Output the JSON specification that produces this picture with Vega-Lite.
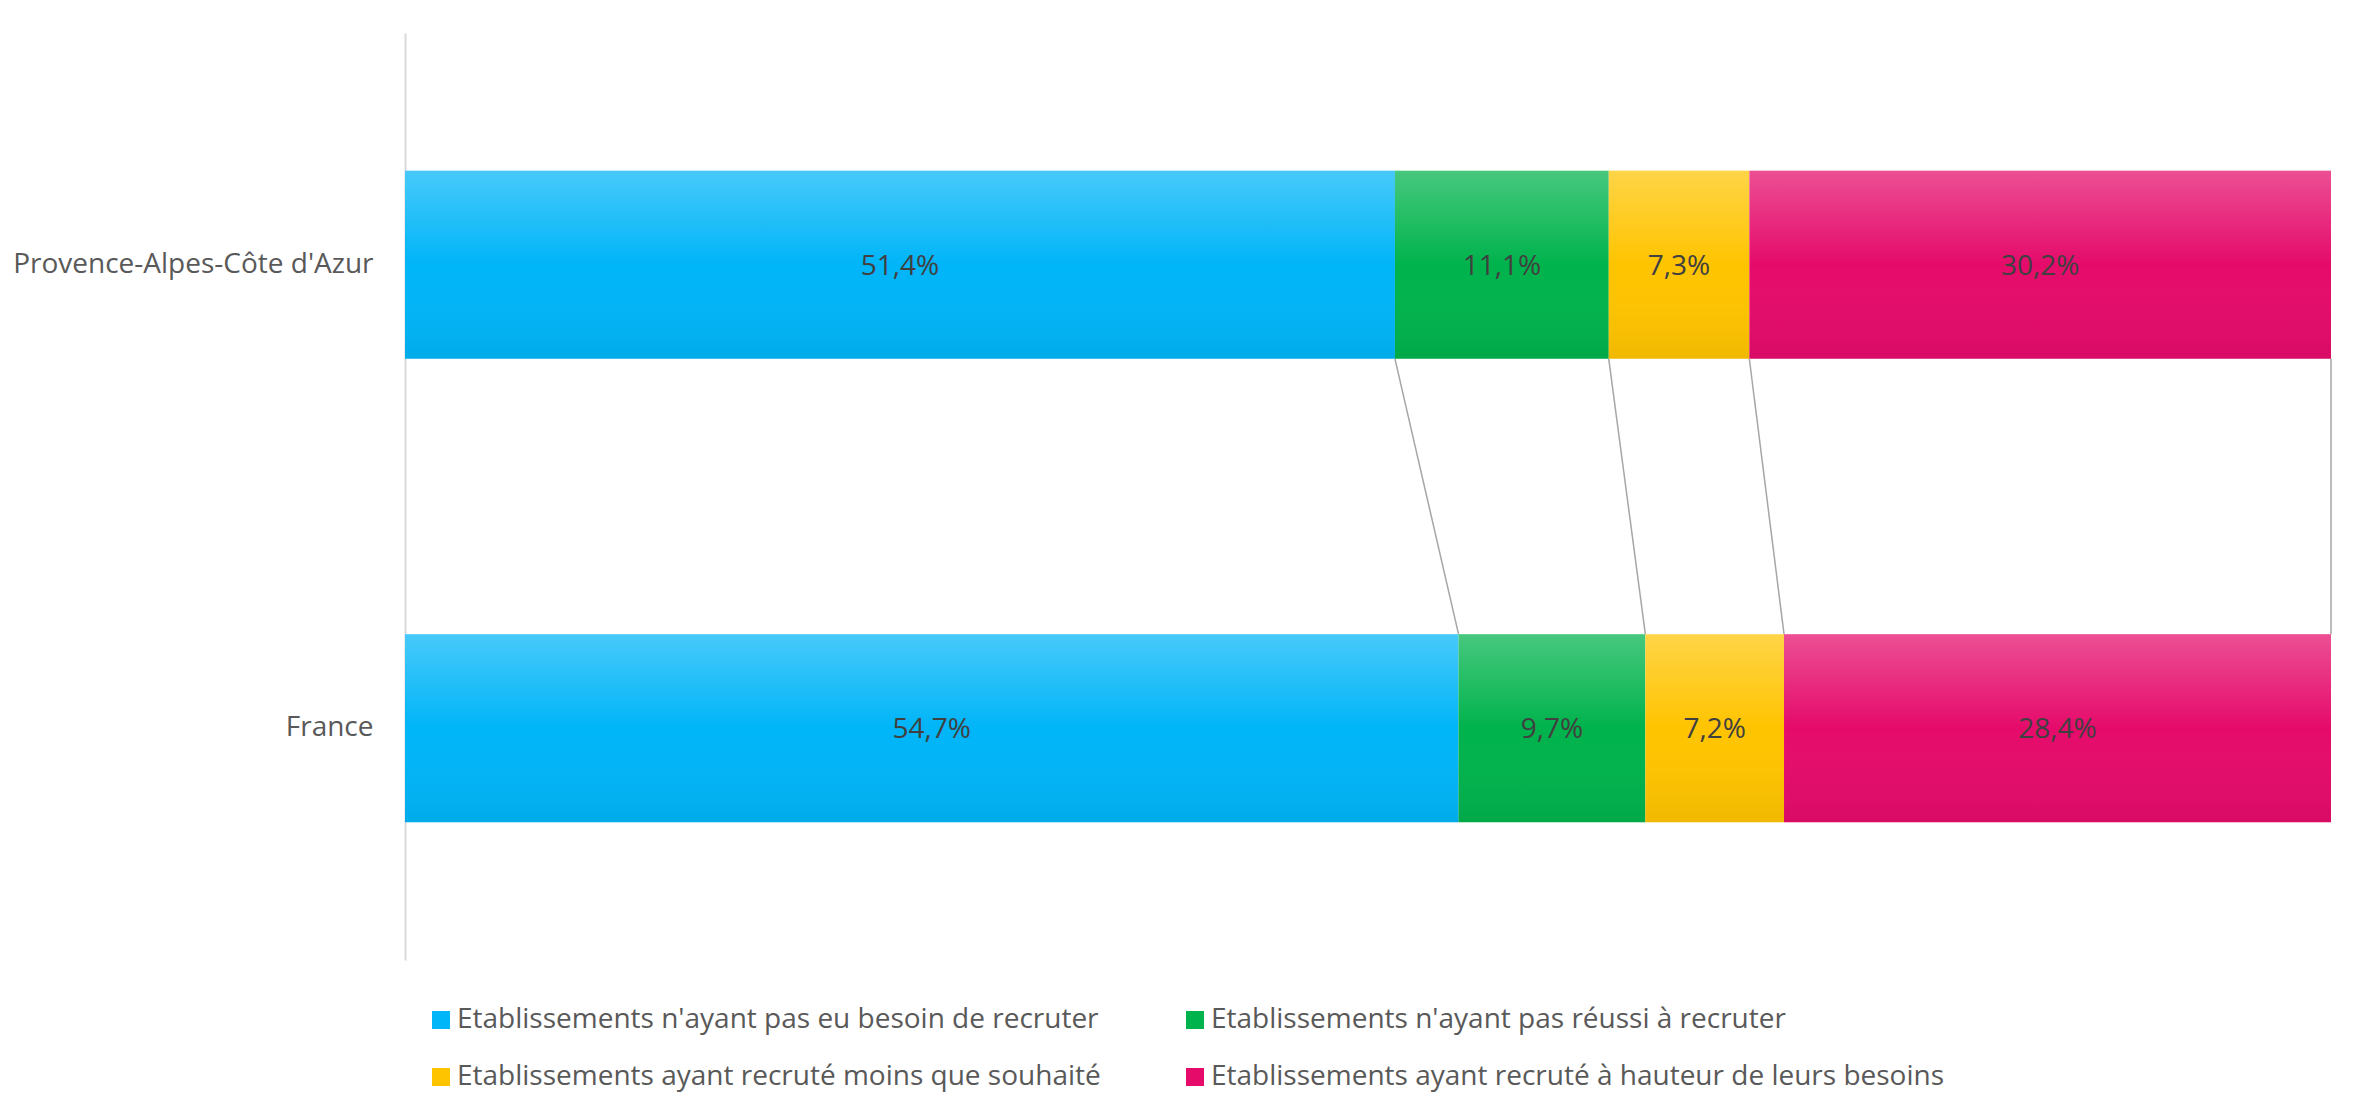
{
  "$schema": "https://vega.github.io/schema/vega-lite/v6.json",
  "width": 1926,
  "height": 927,
  "autosize": {"type": "none"},
  "padding": {"left": 405, "top": 33, "right": 28, "bottom": 149},
  "background": "white",
  "config": {
    "view": {"stroke": null},
    "font": "Open Sans",
    "locale": {"number": {"decimal": ",", "thousands": " ", "grouping": [3], "currency": ["", " €"]}}
  },
  "data": {
    "values": [
      {"region": "Provence-Alpes-Côte d'Azur", "code": "PACA", "categorie": "Etablissements n'ayant pas eu besoin de recruter", "ordre": 1, "valeur": 0.514},
      {"region": "Provence-Alpes-Côte d'Azur", "code": "PACA", "categorie": "Etablissements n'ayant pas réussi à recruter", "ordre": 2, "valeur": 0.111},
      {"region": "Provence-Alpes-Côte d'Azur", "code": "PACA", "categorie": "Etablissements ayant recruté moins que souhaité", "ordre": 3, "valeur": 0.073},
      {"region": "Provence-Alpes-Côte d'Azur", "code": "PACA", "categorie": "Etablissements ayant recruté à hauteur de leurs besoins", "ordre": 4, "valeur": 0.302},
      {"region": "France", "code": "FR", "categorie": "Etablissements n'ayant pas eu besoin de recruter", "ordre": 1, "valeur": 0.547},
      {"region": "France", "code": "FR", "categorie": "Etablissements n'ayant pas réussi à recruter", "ordre": 2, "valeur": 0.097},
      {"region": "France", "code": "FR", "categorie": "Etablissements ayant recruté moins que souhaité", "ordre": 3, "valeur": 0.072},
      {"region": "France", "code": "FR", "categorie": "Etablissements ayant recruté à hauteur de leurs besoins", "ordre": 4, "valeur": 0.284}
    ]
  },
  "transform": [
    {"stack": "valeur", "groupby": ["region"], "sort": [{"field": "ordre"}], "as": ["v0", "v1"]}
  ],
  "layer": [
    {
      "transform": [{"pivot": "code", "value": "v1", "groupby": ["categorie"]}],
      "mark": {"type": "rule", "color": "#A6A6A6", "strokeWidth": 1.5},
      "encoding": {
        "x": {"field": "PACA", "type": "quantitative", "scale": {"domain": [0, 1]}, "axis": null},
        "x2": {"field": "FR"},
        "y": {"datum": "Provence-Alpes-Côte d'Azur", "type": "nominal", "bandPosition": 1},
        "y2": {"datum": "France", "bandPosition": 0}
      }
    },
    {
      "mark": {"type": "bar"},
      "encoding": {
        "y": {
          "field": "region",
          "type": "nominal",
          "sort": ["Provence-Alpes-Côte d'Azur", "France"],
          "scale": {"domain": ["Provence-Alpes-Côte d'Azur", "France"], "paddingInner": 0.594, "paddingOuter": 0.297},
          "axis": {"title": null, "ticks": false, "labelFontSize": 28, "labelColor": "#595959", "labelLimit": 1000, "domainColor": "#D9D9D9", "domainWidth": 2, "labelPadding": 32, "grid": false}
        },
        "x": {"field": "v0", "type": "quantitative", "scale": {"domain": [0, 1]}, "axis": null},
        "x2": {"field": "v1"},
        "color": {
          "field": "categorie",
          "type": "nominal",
          "scale": {
            "domain": [
              "Etablissements n'ayant pas eu besoin de recruter",
              "Etablissements n'ayant pas réussi à recruter",
              "Etablissements ayant recruté moins que souhaité",
              "Etablissements ayant recruté à hauteur de leurs besoins"
            ],
            "range": ["#00B5F8", "#00B34C", "#FFC400", "#E50B6B"]
          },
          "legend": {
            "title": null,
            "orient": "none",
            "legendX": 22,
            "legendY": 973,
            "padding": 0,
            "columns": 2,
            "direction": "horizontal",
            "symbolType": "square",
            "symbolSize": 324,
            "symbolStrokeWidth": 0,
            "labelFontSize": 28,
            "labelColor": "#595959",
            "labelLimit": 1000,
            "labelOffset": 2,
            "rowPadding": 29,
            "columnPadding": 80
          }
        },
        "order": {"field": "ordre"}
      }
    },
    {
      "mark": {
        "type": "bar",
        "fill": {"gradient": "linear", "x1": 0, "y1": 0, "x2": 0, "y2": 1, "stops": [{"offset": 0, "color": "rgba(255,255,255,0.28)"}, {"offset": 0.5, "color": "rgba(255,255,255,0)"}, {"offset": 1, "color": "rgba(0,0,0,0.06)"}]}
      },
      "encoding": {
        "y": {"field": "region", "type": "nominal"},
        "x": {"field": "v0", "type": "quantitative"},
        "x2": {"field": "v1"}
      }
    },
    {
      "transform": [{"fold": ["v0", "v1"], "as": ["bord", "pos"]}],
      "mark": {"type": "text", "fontSize": 28, "color": "#404040", "dy": 2},
      "encoding": {
        "y": {"field": "region", "type": "nominal"},
        "x": {"aggregate": "mean", "field": "pos", "type": "quantitative"},
        "detail": {"field": "categorie"},
        "text": {"field": "valeur", "type": "quantitative", "format": ".1%"}
      }
    }
  ]
}
